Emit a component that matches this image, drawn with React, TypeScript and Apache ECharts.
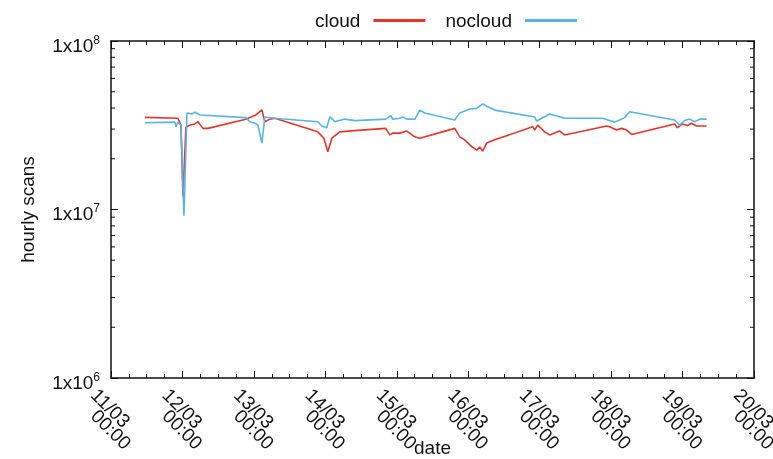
import React, { useEffect, useRef } from "react";
import * as echarts from "echarts";

// ---- data ----
const cloudTimes = [
  "2024-03-11 11:25", "2024-03-11 22:29", "2024-03-11 23:30", "2024-03-12 00:10", "2024-03-12 01:10",
  "2024-03-12 02:31", "2024-03-12 04:12", "2024-03-12 05:12", "2024-03-12 06:53", "2024-03-12 08:34",
  "2024-03-12 21:19", "2024-03-13 00:40", "2024-03-13 02:41", "2024-03-13 03:41", "2024-03-13 05:22",
  "2024-03-13 07:03", "2024-03-13 21:29", "2024-03-13 23:30", "2024-03-14 00:50", "2024-03-14 02:11",
  "2024-03-14 04:52", "2024-03-14 09:54", "2024-03-14 20:18", "2024-03-14 21:39", "2024-03-14 22:39",
  "2024-03-15 01:00", "2024-03-15 03:21", "2024-03-15 06:03", "2024-03-15 07:43", "2024-03-15 19:28",
  "2024-03-15 21:09", "2024-03-15 22:49", "2024-03-16 01:10", "2024-03-16 02:51", "2024-03-16 03:52",
  "2024-03-16 04:52", "2024-03-16 06:13", "2024-03-16 08:53", "2024-03-16 21:39", "2024-03-16 22:19",
  "2024-03-16 23:20", "2024-03-17 01:41", "2024-03-17 03:21", "2024-03-17 06:02", "2024-03-17 06:43",
  "2024-03-17 08:23", "2024-03-17 22:29", "2024-03-17 23:29", "2024-03-18 01:50", "2024-03-18 03:31",
  "2024-03-18 05:12", "2024-03-18 06:53", "2024-03-18 21:19", "2024-03-18 22:19", "2024-03-19 00:00",
  "2024-03-19 01:41", "2024-03-19 03:01", "2024-03-19 04:42", "2024-03-19 08:04",
];
const cloudValues = [
  3.52e7, 3.48e7, 3.17e7, 1.2e7, 3.08e7,
  3.17e7, 3.22e7, 3.32e7, 3.03e7, 3.03e7,
  3.43e7, 3.64e7, 3.9e7, 3.32e7, 3.44e7,
  3.48e7, 2.89e7, 2.65e7, 2.2e7, 2.65e7,
  2.89e7, 2.94e7, 3.03e7, 2.77e7, 2.84e7,
  2.84e7, 2.92e7, 2.7e7, 2.65e7, 3.03e7,
  2.7e7, 2.59e7, 2.36e7, 2.25e7, 2.35e7,
  2.22e7, 2.48e7, 2.59e7, 3.1e7, 2.96e7,
  3.17e7, 2.89e7, 2.77e7, 2.89e7, 2.92e7,
  2.77e7, 3.13e7, 3.1e7, 2.96e7, 3.03e7,
  2.96e7, 2.79e7, 3.22e7, 3.06e7, 3.22e7,
  3.15e7, 3.25e7, 3.13e7, 3.13e7,
];
const nocloudTimes = [
  "2024-03-11 11:25", "2024-03-11 21:29", "2024-03-11 21:49", "2024-03-11 22:29", "2024-03-11 23:30",
  "2024-03-12 00:30", "2024-03-12 01:31", "2024-03-12 03:11", "2024-03-12 04:12", "2024-03-12 05:52",
  "2024-03-12 21:19", "2024-03-12 22:39", "2024-03-13 00:20", "2024-03-13 01:20", "2024-03-13 02:41",
  "2024-03-13 03:41", "2024-03-13 07:03", "2024-03-13 21:29", "2024-03-13 22:49", "2024-03-14 00:30",
  "2024-03-14 01:31", "2024-03-14 03:11", "2024-03-14 06:33", "2024-03-14 09:54", "2024-03-14 20:18",
  "2024-03-14 21:59", "2024-03-14 22:39", "2024-03-15 01:00", "2024-03-15 02:01", "2024-03-15 03:21",
  "2024-03-15 06:03", "2024-03-15 07:43", "2024-03-15 09:24", "2024-03-15 19:28", "2024-03-15 21:09",
  "2024-03-16 00:30", "2024-03-16 02:51", "2024-03-16 04:52", "2024-03-16 06:13", "2024-03-16 08:53",
  "2024-03-16 22:19", "2024-03-16 22:59", "2024-03-17 03:21", "2024-03-17 06:43", "2024-03-17 08:23",
  "2024-03-17 21:08", "2024-03-18 01:10", "2024-03-18 02:51", "2024-03-18 04:32", "2024-03-18 06:13",
  "2024-03-18 21:19", "2024-03-18 22:59", "2024-03-19 00:40", "2024-03-19 02:21", "2024-03-19 04:02",
  "2024-03-19 05:43", "2024-03-19 08:04",
];
const nocloudValues = [
  3.27e7, 3.3e7, 3.1e7, 3.3e7, 3.17e7,
  9.2e6, 3.74e7, 3.69e7, 3.78e7, 3.64e7,
  3.51e7, 3.32e7, 3.25e7, 3.17e7, 2.48e7,
  3.54e7, 3.48e7, 3.32e7, 3.13e7, 3.06e7,
  3.55e7, 3.32e7, 3.44e7, 3.37e7, 3.44e7,
  3.6e7, 3.44e7, 3.48e7, 3.54e7, 3.44e7,
  3.43e7, 3.89e7, 3.74e7, 3.4e7, 3.74e7,
  3.95e7, 3.98e7, 4.23e7, 4.1e7, 3.89e7,
  3.54e7, 3.35e7, 3.69e7, 3.55e7, 3.48e7,
  3.48e7, 3.3e7, 3.4e7, 3.51e7, 3.8e7,
  3.4e7, 3.17e7, 3.37e7, 3.44e7, 3.32e7,
  3.44e7, 3.44e7,
];
const seriesNames = ["cloud", "nocloud"];
const xRange = ["2024-03-11 00:00", "2024-03-20 00:00"];
const yRange = [1e6, 1e8];
const yDecades = [1e6, 1e7];
const yMinorMultipliers = [2, 3, 4, 5, 6, 7, 8, 9];
const xTitle = "date";
const yTitle = "hourly scans";

const FONT = '"Liberation Sans", Arial, Helvetica, sans-serif';
const RED = "#e5352a";
const BLUE = "#56b4e9";
const INK = "#111";
const DAY = 24 * 3600 * 1000;

function toMs(s: string): number {
  const [d, t] = s.split(" ");
  const [y, mo, da] = d.split("-").map(Number);
  const [h, mi] = t.split(":").map(Number);
  return new Date(y, mo - 1, da, h, mi).getTime();
}
const pad = (n: number) => String(n).padStart(2, "0");

export default function App() {
  const ref = useRef<HTMLDivElement>(null);
  useEffect(() => {
    const chart = echarts.init(ref.current!, null, { renderer: "svg" });
    const xMin = toMs(xRange[0]);
    const xMax = toMs(xRange[1]);
    const cloudData = cloudTimes.map((t, i) => [toMs(t), cloudValues[i]]);
    const nocloudData = nocloudTimes.map((t, i) => [toMs(t), nocloudValues[i]]);

    const lineStyle = { color: INK, width: 1.5 };
    const baseX: any = {
      type: "time",
      min: xMin,
      max: xMax,
      minInterval: DAY,
      maxInterval: DAY,
      splitNumber: 9,
      splitLine: { show: false },
      axisPointer: { show: false },
    };
    const labelBase = {
      rotate: -45,
      align: "left",
      verticalAlign: "top",
      lineHeight: 47,
      fontSize: 19,
      fontFamily: FONT,
      color: INK,
      interval: 0,
      showMinLabel: true,
      showMaxLabel: true,
      hideOverlap: false,
    };
    const baseY: any = {
      type: "log",
      logBase: 10,
      min: yRange[0],
      max: yRange[1],
      splitLine: { show: false },
    };

    const option: any = {
      animation: false,
      textStyle: { fontFamily: FONT },
      grid: { left: 111, right: 19, top: 41, bottom: 81, containLabel: false, outerBoundsMode: "none" },
      legend: {
        data: seriesNames,
        left: 310,
        top: 6,
        align: "right",
        icon: "rect",
        itemWidth: 52,
        itemHeight: 3,
        itemGap: 20,
        textStyle: { fontSize: 19, fontFamily: FONT, color: INK, padding: [0, 8, 0, 0] },
      },
      xAxis: [
        {
          ...baseX,
          position: "bottom",
          name: xTitle,
          nameLocation: "middle",
          nameGap: 60,
          nameMoveOverlap: false,
          nameTextStyle: { fontSize: 19, fontFamily: FONT, color: INK },
          axisLine: { show: true, lineStyle },
          axisTick: { show: true, inside: true, length: 7, lineStyle: { color: INK, width: 1 } },
          minorTick: { show: true, splitNumber: 4, length: 4, lineStyle: { color: INK, width: 1 } },
          axisLabel: {
            ...labelBase,
            margin: -3,
            formatter: (v: number) => {
              const d = new Date(v);
              return pad(d.getDate()) + "/" + pad(d.getMonth() + 1);
            },
          },
        },
        {
          ...baseX,
          position: "bottom",
          axisLine: { show: false },
          axisTick: { show: false },
          axisLabel: {
            ...labelBase,
            margin: 18,
            formatter: (v: number) => {
              const d = new Date(v);
              return pad(d.getHours()) + ":" + pad(d.getMinutes());
            },
          },
        },
        {
          ...baseX,
          position: "top",
          axisLine: { show: true, lineStyle },
          axisTick: { show: true, inside: true, length: 7, lineStyle: { color: INK, width: 1 } },
          minorTick: { show: true, splitNumber: 4, length: 4, lineStyle: { color: INK, width: 1 } },
          axisLabel: { show: false },
        },
      ],
      yAxis: [
        {
          ...baseY,
          position: "left",
          name: yTitle,
          nameLocation: "middle",
          nameGap: 74,
          nameRotate: 90,
          nameMoveOverlap: false,
          nameTextStyle: { fontSize: 19, fontFamily: FONT, color: INK },
          axisLine: { show: true, lineStyle },
          axisTick: { show: true, inside: true, length: 7, lineStyle: { color: INK, width: 1 } },
          axisLabel: {
            margin: 11,
            color: INK,
            padding: [6, 0, 0, 0],
            formatter: (v: number) => "{m|1x10}{s|" + Math.round(Math.log10(v)) + "}",
            rich: {
              m: { fontSize: 19, lineHeight: 21, fontFamily: FONT, color: INK, verticalAlign: "bottom" },
              s: { fontSize: 12, lineHeight: 12, fontFamily: FONT, color: INK, verticalAlign: "top" },
            },
          },
        },
        {
          ...baseY,
          position: "right",
          axisLine: { show: true, lineStyle },
          axisTick: { show: true, inside: true, length: 7, lineStyle: { color: INK, width: 1 } },
          axisLabel: { show: false },
        },
      ],
      series: [
        {
          name: seriesNames[0],
          type: "line",
          xAxisIndex: 0,
          yAxisIndex: 0,
          data: cloudData,
          showSymbol: false,
          symbol: "none",
          lineStyle: { color: RED, width: 1.6 },
          itemStyle: { color: RED },
        },
        {
          name: seriesNames[1],
          type: "line",
          xAxisIndex: 0,
          yAxisIndex: 0,
          data: nocloudData,
          showSymbol: false,
          symbol: "none",
          lineStyle: { color: BLUE, width: 1.6 },
          itemStyle: { color: BLUE },
        },
      ],
    };
    chart.setOption(option);

    // minor ticks of the log axes (2..9 x 10^n), placed through the axis scale
    const xl = chart.convertToPixel({ xAxisIndex: 0 }, xMin) as number;
    const xr = chart.convertToPixel({ xAxisIndex: 0 }, xMax) as number;
    const elements: any[] = [];
    yDecades.forEach((dec) => {
      yMinorMultipliers.forEach((k) => {
        const y = chart.convertToPixel({ yAxisIndex: 0 }, dec * k) as number;
        elements.push({
          type: "line",
          shape: { x1: xl, y1: y, x2: xl + 4, y2: y },
          style: { stroke: INK, lineWidth: 1 },
          silent: true,
        });
        elements.push({
          type: "line",
          shape: { x1: xr - 4, y1: y, x2: xr, y2: y },
          style: { stroke: INK, lineWidth: 1 },
          silent: true,
        });
      });
    });
    chart.setOption({ graphic: elements });

    return () => chart.dispose();
  }, []);
  return <div ref={ref} style={{ position: "fixed", left: 0, top: 0, width: 773, height: 459 }} />;
}
